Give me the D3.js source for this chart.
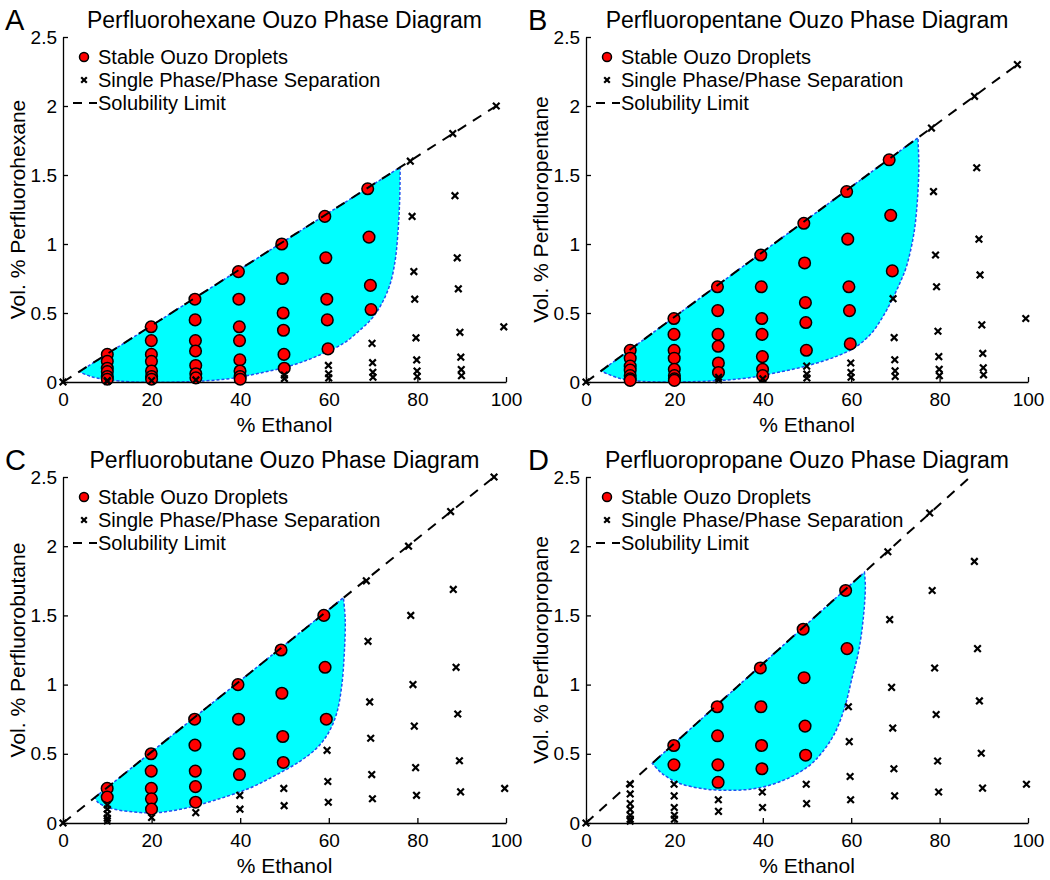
<!DOCTYPE html>
<html><head><meta charset="utf-8">
<script src="https://cdn.jsdelivr.net/npm/d3@7"></script>
<style>
body{margin:0;background:#fff}
text{font-family:Arial,"Liberation Sans",sans-serif;fill:#000}
</style>
</head><body>
<svg id="chart" width="1050" height="880"></svg>
<script>
// ---------------- DATA ----------------
const panelLetters = ["A", "B", "C", "D"];
const titles = [
  "Perfluorohexane Ouzo Phase Diagram",
  "Perfluoropentane Ouzo Phase Diagram",
  "Perfluorobutane Ouzo Phase Diagram",
  "Perfluoropropane Ouzo Phase Diagram"
];
const yLabels = ["Vol. % Perfluorohexane", "Vol. % Perfluoropentane", "Vol. % Perfluorobutane", "Vol. % Perfluoropropane"];
const xLabel = "% Ethanol";
const xTicks = [0, 20, 40, 60, 80, 100];
const yTicks = [0, 0.5, 1, 1.5, 2, 2.5];
const yTickLabels = ["0", "0.5", "1", "1.5", "2", "2.5"];
const legendLabels = ["Stable Ouzo Droplets", "Single Phase/Phase Separation", "Solubility Limit"];

// Panel A – perfluorohexane
const dropletsA = [
  [10,0.2],[10,0.15],[10,0.1],[10,0.075],[10,0.04],[10,0.02],
  [19.9,0.4],[19.93,0.3],[19.95,0.2],[19.96,0.15],[19.98,0.08],[20,0.04],[20,0.02],
  [29.78,0.6],[29.83,0.45],[29.89,0.3],[29.92,0.225],[29.96,0.12],[29.98,0.06],[30,0.03],
  [39.6,0.8],[39.7,0.6],[39.8,0.4],[39.85,0.3],[39.92,0.16],[39.96,0.08],[39.98,0.04],[40,0.02],
  [49.38,1.0],[49.53,0.75],[49.69,0.5],[49.77,0.375],[49.88,0.2],[49.94,0.1],
  [59.1,1.2],[59.33,0.9],[59.55,0.6],[59.66,0.45],[59.82,0.24],
  [68.78,1.4],[69.08,1.05],[69.39,0.7],[69.54,0.525]
];
const crossesA = [
  [0,0],[10,0.01],[10,0.005],[20,0.01],[30,0.015],
  [49.97,0.05],[49.98,0.025],
  [59.91,0.12],[59.96,0.06],[59.98,0.03],
  [69.76,0.28],[69.88,0.14],[69.94,0.07],[69.97,0.035],
  [78.4,1.6],[78.8,1.2],[79.2,0.8],[79.4,0.6],[79.68,0.32],[79.84,0.16],[79.92,0.08],[79.96,0.04],
  [87.98,1.8],[88.48,1.35],[88.99,0.9],[89.24,0.675],[89.6,0.36],[89.8,0.18],[89.9,0.09],[89.95,0.045],
  [97.8,2.0],[99.5,0.4]
];
const solubilityA = [[0,0],[97.8,2.0]];
const regionTopA = [[3.7,0.075],[76.1,1.556]];
const regionCurveA = [[76.1,1.556],[76.0,1.32],[75.6,1.08],[75.0,0.885],[73.9,0.716],[72.0,0.571],[69.8,0.463],[67.1,0.378],[63.4,0.282],[58.1,0.198],[52.1,0.125],[44.5,0.065],[37.0,0.022],[28.0,0.002],[16,0.0],[9.9,0.017],[6.2,0.041],[3.7,0.075]];

// Panel B – perfluoropentane
const dropletsB = [
  [10,0.23],[10,0.1725],[10,0.115],[10,0.086],[10,0.046],[10,0.023],[10,0.0115],
  [19.89,0.46],[19.91,0.345],[19.94,0.23],[19.96,0.1725],[19.98,0.092],[20,0.046],[20,0.023],[20,0.0115],
  [29.74,0.69],[29.81,0.5175],[29.87,0.345],[29.9,0.259],[29.95,0.138],[29.97,0.069],
  [39.54,0.92],[39.66,0.69],[39.77,0.46],[39.83,0.345],[39.91,0.184],[39.95,0.092],[39.98,0.046],
  [49.28,1.15],[49.46,0.8625],[49.64,0.575],[49.73,0.431],[49.86,0.23],
  [58.97,1.38],[59.22,1.035],[59.48,0.69],[59.61,0.5175],[59.79,0.276],
  [68.59,1.61],[68.94,1.2075],[69.3,0.805]
];
const crossesB = [
  [0,0],[30,0.0345],[30,0.017],[40,0.023],
  [49.93,0.115],[49.96,0.0575],[49.98,0.029],
  [59.9,0.138],[59.95,0.069],[59.97,0.0345],
  [69.47,0.604],[69.72,0.322],[69.86,0.161],[69.93,0.0805],[69.96,0.04],
  [78.16,1.84],[78.62,1.38],[79.08,0.92],[79.31,0.69],[79.63,0.368],[79.82,0.184],[79.91,0.092],[79.95,0.046],
  [87.9,2.07],[88.4,1.5525],[88.9,1.035],[89.15,0.776],[89.55,0.414],[89.77,0.207],[89.88,0.1035],[89.94,0.052],
  [97.6,2.3],[99.5,0.46]
];
const solubilityB = [[0,0],[97.6,2.3]];
const regionTopB = [[3.4,0.08],[75.1,1.77]];
const regionCurveB = [[75.1,1.77],[75.3,1.56],[74.98,1.32],[74.2,1.08],[72.5,0.837],[71.0,0.716],[69.3,0.6],[67.2,0.475],[64.6,0.354],[61.2,0.258],[57.0,0.19],[50.3,0.12],[42.7,0.065],[35.2,0.024],[23.9,0.002],[12.6,0.005],[7.3,0.029],[3.4,0.08]];

// Panel C – perfluorobutane
const dropletsC = [
  [9.97,0.25],[9.98,0.1875],
  [19.88,0.5],[19.91,0.375],[19.94,0.25],[19.96,0.175],[19.98,0.1],
  [29.72,0.75],[29.79,0.5625],[29.86,0.375],[29.9,0.2625],[29.94,0.15],
  [39.5,1.0],[39.63,0.75],[39.75,0.5],[39.83,0.35],
  [49.22,1.25],[49.41,0.9375],[49.61,0.625],[49.73,0.4375],
  [58.88,1.5],[59.16,1.125],[59.44,0.75]
];
const crossesC = [
  [0,0],[10,0.13],[10,0.1],[10,0.065],[10,0.035],[10,0.015],[20,0.04],
  [29.97,0.075],[39.9,0.2],[39.95,0.1],[49.84,0.25],[49.92,0.125],
  [59.61,0.525],[59.78,0.3],[59.89,0.15],
  [68.47,1.75],[68.85,1.3125],[69.23,0.875],[69.46,0.6125],[69.69,0.35],[69.85,0.175],
  [78,2.0],[78.5,1.5],[79,1.0],[79.3,0.7],[79.6,0.4],[79.8,0.2],
  [87.5,2.25],[88.1,1.6875],[88.73,1.125],[89.11,0.7875],[89.49,0.45],[89.75,0.225],
  [97.3,2.5],[99.7,0.25]
];
const solubilityC = [[0,0],[97.3,2.5]];
const regionTopC = [[7.2,0.185],[63.3,1.628]];
const regionCurveC = [[63.3,1.628],[63.7,1.469],[63.5,1.228],[62.9,0.987],[61.8,0.795],[59.9,0.65],[57.3,0.542],[53.5,0.446],[48.2,0.349],[42.2,0.253],[34.7,0.169],[27.9,0.108],[21.1,0.075],[15.8,0.08],[10.6,0.108],[7.9,0.149],[7.2,0.185]];

// Panel D – perfluoropropane
const dropletsD = [
  [19.86,0.56],[19.9,0.42],
  [29.69,0.84],[29.76,0.63],[29.84,0.42],[29.89,0.294],
  [39.44,1.12],[39.58,0.84],[39.72,0.56],[39.8,0.392],
  [49.13,1.4],[49.34,1.05],[49.56,0.7],[49.69,0.49],
  [58.74,1.68],[59.06,1.26]
];
const crossesD = [
  [0,0],[10,0.28],[10,0.21],[10,0.14],[10,0.098],[10,0.056],[10,0.028],[10,0.014],
  [19.93,0.28],[19.95,0.196],[19.97,0.112],[20,0.056],[20,0.028],
  [29.94,0.168],[29.97,0.084],
  [39.89,0.224],[39.94,0.112],
  [49.83,0.28],[49.91,0.14],
  [59.37,0.84],[59.56,0.588],[59.75,0.336],[59.87,0.168],
  [68.29,1.96],[68.71,1.47],[69.14,0.98],[69.4,0.686],[69.66,0.392],[69.83,0.196],
  [77.76,2.24],[78.32,1.68],[78.88,1.12],[79.22,0.784],[79.55,0.448],[79.78,0.224],
  [87.87,1.89],[88.58,1.26],[89.01,0.882],[89.43,0.504],[89.72,0.252],
  [99.65,0.28]
];
const solubilityD = [[0,0],[86.9,2.5]];
const regionTopD = [[15,0.432],[63.0,1.812]];
const regionCurveD = [[63.0,1.812],[63.2,1.71],[62.7,1.469],[61.6,1.228],[60.1,1.036],[58.6,0.843],[56.3,0.65],[53.3,0.506],[50.3,0.409],[45,0.313],[39,0.253],[32.9,0.236],[26.9,0.246],[20.9,0.289],[17.1,0.361],[15,0.432]];

// --------------- LAYOUT ---------------
const panels = [
  {left:63,  right:506,  top:37,  bottom:382, drops:dropletsA, crosses:crossesA, sol:solubilityA, rTop:regionTopA, rCurve:regionCurveA},
  {left:586, right:1028, top:37,  bottom:382, drops:dropletsB, crosses:crossesB, sol:solubilityB, rTop:regionTopB, rCurve:regionCurveB},
  {left:63,  right:506,  top:477, bottom:823, drops:dropletsC, crosses:crossesC, sol:solubilityC, rTop:regionTopC, rCurve:regionCurveC},
  {left:586, right:1028, top:477, bottom:823, drops:dropletsD, crosses:crossesD, sol:solubilityD, rTop:regionTopD, rCurve:regionCurveD}
];

const svg = d3.select("#chart");
svg.append("rect").attr("width",1050).attr("height",880).attr("fill","#fff");

const CYAN = "#00ffff", BOUND = "#1f4ff0", RED = "#ff0000";

function crossPath(x, y, s) {
  return `M${x-s},${y-s}L${x+s},${y+s}M${x-s},${y+s}L${x+s},${y-s}`;
}

panels.forEach((p, i) => {
  const x = d3.scaleLinear().domain([0, 100]).range([p.left, p.right]);
  const y = d3.scaleLinear().domain([0, 2.5]).range([p.bottom, p.top]);
  const g = svg.append("g");

  // region
  const lin = d3.line().x(d => x(d[0])).y(d => y(d[1]));
  const cur = d3.line().x(d => x(d[0])).y(d => y(d[1])).curve(d3.curveCatmullRom.alpha(0.5));
  const regionPath = lin(p.rTop) + cur(p.rCurve).replace(/^M/, "L") + "Z";
  g.append("path").attr("d", regionPath).attr("fill", CYAN).attr("stroke", "none");
  g.append("path").attr("d", regionPath).attr("fill", "none")
    .attr("stroke", BOUND).attr("stroke-width", 1.5).attr("stroke-dasharray", "3,2");

  // axes
  const ax = g.append("g").attr("transform", `translate(0,${p.bottom})`)
    .call(d3.axisBottom(x).tickValues(xTicks).tickFormat(d3.format("d")).tickSizeInner(-5).tickSizeOuter(0).tickPadding(11));
  const ay = g.append("g").attr("transform", `translate(${p.left},0)`)
    .call(d3.axisLeft(y).tickValues(yTicks).tickFormat((d, k) => yTickLabels[k]).tickSizeInner(-5).tickSizeOuter(0).tickPadding(6));
  [ax, ay].forEach(a => {
    a.selectAll("path,line").attr("stroke", "#000").attr("stroke-width", 1.3);
    a.selectAll("text").style("font-size", "19px").attr("fill", "#000");
  });

  // droplets
  g.append("g").selectAll("circle").data(p.drops).join("circle")
    .attr("cx", d => x(d[0])).attr("cy", d => y(d[1])).attr("r", 5.8)
    .attr("fill", RED).attr("stroke", "#000").attr("stroke-width", 1.5);

  // crosses
  g.append("g").selectAll("path").data(p.crosses).join("path")
    .attr("d", d => crossPath(x(d[0]), y(d[1]), 3.3))
    .attr("stroke", "#000").attr("stroke-width", 2.2).attr("fill", "none");

  // solubility line
  g.append("path").attr("d", lin(p.sol)).attr("fill", "none")
    .attr("stroke", "#000").attr("stroke-width", 2).attr("stroke-dasharray", "10,8");

  // title, letter, labels
  g.append("text").attr("x", (p.left + p.right) / 2).attr("y", p.top - 9.5)
    .attr("text-anchor", "middle").style("font-size", "23px").text(titles[i]);
  g.append("text").attr("x", p.left - 58).attr("y", p.top - 7)
    .style("font-size", "29px").text(panelLetters[i]);
  g.append("text").attr("x", (p.left + p.right) / 2).attr("y", p.bottom + 50)
    .attr("text-anchor", "middle").style("font-size", "21px").text(xLabel);
  g.append("text").attr("transform", `translate(${p.left - 38},${(p.top + p.bottom) / 2}) rotate(-90)`)
    .attr("text-anchor", "middle").style("font-size", "21px").text(yLabels[i]);

  // legend
  const lg = g.append("g");
  const mx = p.left + 21, tx = p.left + 35;
  const rows = [p.top + 20, p.top + 43, p.top + 66];
  lg.append("circle").attr("cx", mx).attr("cy", rows[0]).attr("r", 4.5)
    .attr("fill", RED).attr("stroke", "#000").attr("stroke-width", 1.5);
  lg.append("path").attr("d", crossPath(mx, rows[1], 2.8))
    .attr("stroke", "#000").attr("stroke-width", 2.2).attr("fill", "none");
  lg.append("line").attr("x1", p.left + 10).attr("x2", p.left + 34)
    .attr("y1", rows[2]).attr("y2", rows[2])
    .attr("stroke", "#000").attr("stroke-width", 2).attr("stroke-dasharray", "9,7");
  legendLabels.forEach((t, k) => {
    lg.append("text").attr("x", tx).attr("y", rows[k]).attr("dy", "0.35em")
      .style("font-size", "20px").text(t);
  });
});
</script>
</body></html>
